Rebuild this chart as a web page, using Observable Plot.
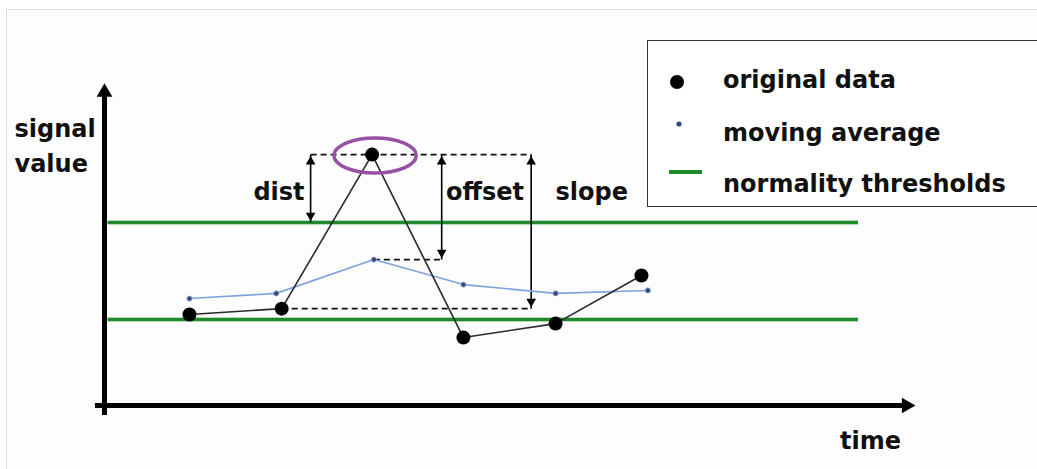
<!DOCTYPE html>
<html><head><meta charset="utf-8">
<script src="https://cdn.jsdelivr.net/npm/d3@7"></script>
<script src="https://cdn.jsdelivr.net/npm/@observablehq/plot@0.6"></script>
<style>
html,body{margin:0;padding:0;background:#fff;overflow:hidden}
#wrap{position:relative;width:1037px;height:469px;font-family:"DejaVu Sans",sans-serif;font-weight:bold}
#sheet{position:absolute;left:6px;top:9px;right:0;bottom:0;border-top:1px solid #dcdcdc;border-left:1px solid #dcdcdc;background:#fdfdfd}
#chart{position:absolute;left:0;top:0}
#legend{position:absolute;left:647px;top:40px;width:420px;height:167px;border:1.5px solid #333;background:#fff;box-sizing:border-box}
#legend svg{position:absolute;left:-1.5px;top:-1.5px;overflow:visible}
#legend text{font-family:"DejaVu Sans",sans-serif;font-weight:bold;font-size:24px;fill:#111}
</style>
</head><body>
<div id="wrap">
  <div id="sheet"></div>
  <div id="chart"></div>
  <div id="legend"></div>
</div>
<script>
// ---- data (time units, signal-value units) ----
const time = [0.94, 1.96, 2.96, 3.97, 4.99, 5.94];
const signal = [2.80, 2.98, 7.72, 2.09, 2.52, 4.00];
const maTime = [0.94, 1.90, 2.98, 3.97, 4.99, 6.01];
const movingAverage = [3.29, 3.45, 4.49, 3.72, 3.45, 3.54];
const thresholds = [2.65, 5.63];
const thresholdSpan = [0.04, 8.34];
const measures = ["dist", "offset", "slope"];
const measureTime = [2.28, 3.73, 4.72];
const labelTime = [1.93, 4.21, 5.39];
const labelValue = 6.33;
const axisLabels = ["signal\nvalue", "time"];
const legendLabels = ["original data", "moving average", "normality thresholds"];
const axisEnds = {x: [-0.1, 9], y: [-0.31, 10]};

const peak = signal[2];
const measureTo = [thresholds[1], movingAverage[2], signal[1]];
const orig = time.map((t, i) => ({t, v: signal[i]}));
const ma = maTime.map((t, i) => ({t, v: movingAverage[i]}));
const guides = [
  {x1: measureTime[0], x2: measureTime[2], y: peak},
  {x1: maTime[2], x2: measureTime[1], y: movingAverage[2]},
  {x1: time[1], x2: measureTime[2], y: signal[1]}
];
const arrows = measures.map((m, i) => ({t: measureTime[i], from: peak, to: measureTo[i]}));

const ellipse = {
  draw(ctx, size) {
    const r = Math.sqrt(size / Math.PI), rx = r * 2.35, ry = r, k = 0.5523;
    ctx.moveTo(rx, 0);
    ctx.bezierCurveTo(rx, ry * k, rx * k, ry, 0, ry);
    ctx.bezierCurveTo(-rx * k, ry, -rx, ry * k, -rx, 0);
    ctx.bezierCurveTo(-rx, -ry * k, -rx * k, -ry, 0, -ry);
    ctx.bezierCurveTo(rx * k, -ry, rx, -ry * k, rx, 0);
    ctx.closePath();
  }
};

const font = {fontSize: 24, fontWeight: "bold", fill: "#111"};
const chart = Plot.plot({
  width: 1037, height: 469, margin: 0,
  x: {domain: [0, 9], range: [104, 917.6], axis: null},
  y: {domain: [0, 10], range: [405, 80], axis: null},
  style: {background: "transparent", fontFamily: "DejaVu Sans, sans-serif"},
  marks: [
    // axes with arrow heads
    Plot.ruleX([0], {y1: axisEnds.y[0], y2: axisEnds.y[1] - 0.4, stroke: "#000", strokeWidth: 5}),
    Plot.ruleY([0], {x1: axisEnds.x[0], x2: axisEnds.x[1] - 0.15, stroke: "#000", strokeWidth: 5}),
    Plot.dot([0], {x: 0, y: axisEnds.y[1], symbol: "triangle2", r: 7.5, fill: "#000", dy: 11.7}),
    Plot.dot([0], {x: axisEnds.x[1], y: 0, symbol: "triangle2", r: 7.5, fill: "#000", rotate: 90, dx: -11.7}),
    // thresholds
    Plot.ruleY(thresholds, {x1: thresholdSpan[0], x2: thresholdSpan[1], stroke: "#2a9a3a", strokeWidth: 5, strokeOpacity: 0.35}),
    Plot.ruleY(thresholds, {x1: thresholdSpan[0], x2: thresholdSpan[1], stroke: "#1f8a2c", strokeWidth: 3}),
    // dashed guides
    Plot.link(guides, {x1: "x1", x2: "x2", y1: "y", y2: "y", stroke: "#111", strokeWidth: 1.6, strokeDasharray: "6,4"}),
    // measure arrows
    Plot.link(arrows, {x1: "t", x2: "t", y1: "from", y2: "to", stroke: "#000", strokeWidth: 1.6}),
    Plot.dot(arrows, {x: "t", y: "from", symbol: "triangle2", r: 4.6, fill: "#000", dy: 7}),
    Plot.dot(arrows, {x: "t", y: "to", symbol: "triangle2", r: 4.6, fill: "#000", rotate: 180, dy: -7}),
    // moving average
    Plot.line(ma, {x: "t", y: "v", stroke: "#7ea3dc", strokeWidth: 1.6}),
    Plot.dot(ma, {x: "t", y: "v", r: 2.6, fill: "#344a7c", stroke: "#9fb4d8", strokeWidth: 0.8}),
    // original data
    Plot.line(orig, {x: "t", y: "v", stroke: "#2a2a2a", strokeWidth: 1.6}),
    Plot.dot(orig, {x: "t", y: "v", r: 7, fill: "#000"}),
    // highlight ellipse
    Plot.dot([orig[2]], {x: "t", y: "v", symbol: ellipse, r: 17.5, stroke: "#984fa6", strokeWidth: 3.5, fill: "none", dx: 3, dy: 1}),
    // labels
    Plot.text(measures, {x: (d, i) => labelTime[i], y: labelValue, text: d => d, lineAnchor: "bottom", ...font}),
    Plot.text([axisLabels[0]], {frameAnchor: "top-left", dx: 14, dy: 171, textAnchor: "start", lineAnchor: "bottom", lineHeight: 1.45, ...font}),
    Plot.text([axisLabels[1]], {frameAnchor: "top-left", dx: 870, dy: 448, textAnchor: "middle", lineAnchor: "bottom", ...font})
  ]
});
document.getElementById("chart").appendChild(chart);

// legend
const lg = d3.select("#legend").append("svg").attr("width", 420).attr("height", 167);
lg.append("circle").attr("cx", 30).attr("cy", 42).attr("r", 7).attr("fill", "#000");
lg.append("circle").attr("cx", 32).attr("cy", 84).attr("r", 2.6).attr("fill", "#344a7c");
lg.append("line").attr("x1", 22).attr("x2", 55).attr("y1", 132).attr("y2", 132).attr("stroke", "#1f8a2c").attr("stroke-width", 4);
lg.selectAll("text.lab").data(legendLabels).join("text").attr("class", "lab")
  .attr("x", 76).attr("y", (d, i) => [48, 101, 152][i]).text(d => d);
</script>
</body></html>
